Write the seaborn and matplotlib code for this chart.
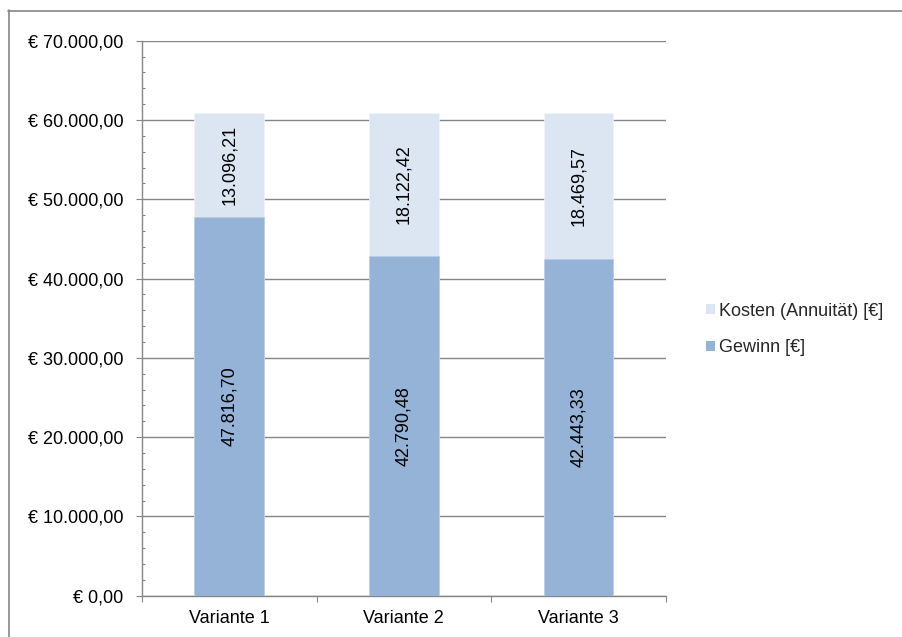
import matplotlib
matplotlib.use("Agg")
import matplotlib.pyplot as plt
from matplotlib.patches import Patch
from matplotlib.lines import Line2D
from matplotlib.ticker import FixedLocator, MultipleLocator, FuncFormatter
import seaborn as sns
import pandas as pd

# Werte je Variante
varianten = ["Variante 1", "Variante 2", "Variante 3"]
gewinn = [47816.70, 42790.48, 42443.33]
kosten = [13096.21, 18122.42, 18469.57]
serien = ["Kosten (Annuität) [€]", "Gewinn [€]"]
y_ticks = [0, 10000, 20000, 30000, 40000, 50000, 60000, 70000]

farbe_gewinn = "#95B3D7"
farbe_kosten = "#DCE6F2"
grau = "#868686"

sns.set_theme(style="white")
plt.rcParams["font.family"] = ["Liberation Sans", "DejaVu Sans"]
plt.rcParams["font.size"] = 13

df = pd.DataFrame({
    "Variante": varianten,
    "Gewinn": gewinn,
    "Kosten": kosten,
})
df["Gesamt"] = df["Gewinn"] + df["Kosten"]

fig = plt.figure(figsize=(9.03, 6.37), dpi=100)
ax = fig.add_axes([0.1573, 0.0648, 0.5799, 0.8713])

# gestapelte Balken: Gesamthöhe hell, Gewinnanteil darüber
sns.barplot(data=df, x="Variante", y="Gesamt", color=farbe_kosten, width=0.4,
            saturation=1, edgecolor="#F2F6FB", linewidth=0.5, ax=ax, zorder=3)
sns.barplot(data=df, x="Variante", y="Gewinn", color=farbe_gewinn, width=0.4,
            saturation=1, edgecolor="#B8CCE4", linewidth=0.5, ax=ax, zorder=3)


def euro(v):
    s = f"{v:,.2f}"
    return s.replace(",", "X").replace(".", ",").replace("X", ".")


for i, (g, k) in enumerate(zip(gewinn, kosten)):
    ax.text(i, g / 2, euro(g), rotation=90, ha="center", va="center",
            fontsize=13, color="black", zorder=4)
    ax.text(i, g + k / 2, euro(k), rotation=90, ha="center", va="center",
            fontsize=13, color="black", zorder=4)

ax.set_xlim(-0.5, 2.5)
ax.set_ylim(0, 70000)
ax.set_xlabel("")
ax.set_ylabel("")

ax.yaxis.set_major_locator(FixedLocator(y_ticks))
ax.yaxis.set_minor_locator(MultipleLocator(2000))
ax.yaxis.set_major_formatter(FuncFormatter(lambda v, p: "€ " + euro(v)))
ax.xaxis.set_minor_locator(FixedLocator([-0.5, 0.5, 1.5, 2.5]))

ax.grid(axis="y", which="major", color=grau, linewidth=1.0, zorder=0)
ax.grid(axis="x", visible=False)
ax.set_axisbelow(True)

for side in ("top", "right"):
    ax.spines[side].set_visible(False)
for side in ("left", "bottom"):
    ax.spines[side].set_color(grau)
    ax.spines[side].set_linewidth(1.0)

ax.tick_params(axis="y", which="major", direction="out", length=4.3, width=0.8,
               color=grau, pad=9, labelsize=13, labelcolor="black", left=True)
ax.tick_params(axis="y", which="minor", direction="in", length=2.2, width=0.8,
               color=grau, left=True)
ax.tick_params(axis="x", which="major", length=0, pad=10, labelsize=13,
               labelcolor="black")
ax.tick_params(axis="x", which="minor", direction="out", length=4, width=0.8,
               color=grau, bottom=True)

handles = [Patch(facecolor=farbe_kosten, edgecolor="none"),
           Patch(facecolor=farbe_gewinn, edgecolor="none")]
fig.legend(handles, serien, loc="center left",
           bbox_to_anchor=(0.7818, 0.4827), frameon=False, fontsize=13,
           handlelength=0.5, handleheight=0.5, handletextpad=0.2,
           labelspacing=1.1, borderpad=0, borderaxespad=0)

# Rahmen des Diagrammbereichs
fig.add_artist(Line2D([8.5 / 903, 8.5 / 903], [0, 1 - 10 / 637],
                      transform=fig.transFigure, color=grau, linewidth=1.2))
fig.add_artist(Line2D([8 / 903, 1], [1 - 10.5 / 637, 1 - 10.5 / 637],
                      transform=fig.transFigure, color=grau, linewidth=1.2))

fig.savefig("out.png", dpi=100, facecolor="white")
